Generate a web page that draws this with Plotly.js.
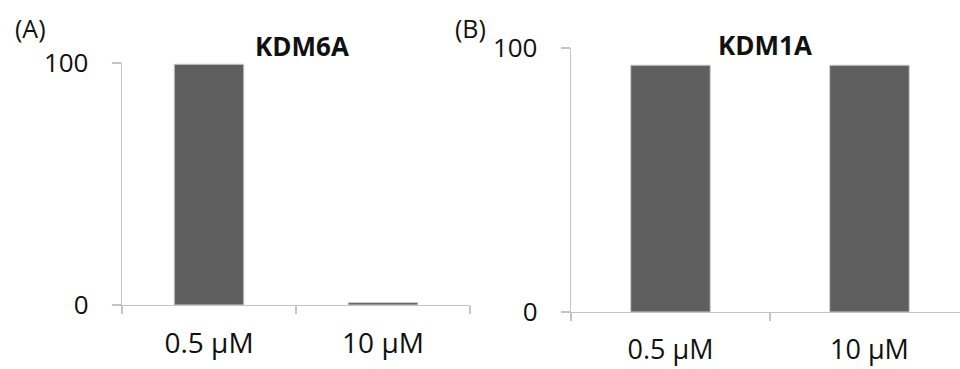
<!DOCTYPE html>
<html>
<head>
<meta charset="utf-8">
<script src="https://cdn.plot.ly/plotly-3.0.1.min.js"></script>
<style>html,body{margin:0;padding:0;background:#fff;}#chart{width:960px;height:369px;}</style>
</head>
<body>
<div id="chart"></div>
<script>
// Data
var categories = ["0.5 μM", "10 μM"];
var kdm6aValues = [99.5, 1.0];
var kdm1aValues = [93.5, 93.5];
var yTickValues = [0, 100];
var yTickLabels = ["0", "100"];
var panelTitles = ["KDM6A", "KDM1A"];
var panelLetters = ["(A)", "(B)"];

var FONT = "'Open Sans', Lato, sans-serif";
var barColor = "#5f5f5f";
var axisColor = "#c4c4c4";
var textColor = "#111111";

var traces = [
  {type: "bar", x: categories, y: kdm6aValues, xaxis: "x", yaxis: "y",
   marker: {color: barColor, line: {color: "#cfcfcf", width: 1}}, hoverinfo: "x+y"},
  {type: "bar", x: categories, y: kdm1aValues, xaxis: "x2", yaxis: "y2",
   marker: {color: barColor, line: {color: "#cfcfcf", width: 1}}, hoverinfo: "x+y"}
];

function xa(domain, range, standoff, size) {
  return {domain: domain, type: "category", range: range, tickson: "boundaries",
    showline: true, linecolor: axisColor, linewidth: 1.3, ticks: "outside", ticklen: 8,
    tickcolor: axisColor, tickwidth: 1.3, showgrid: false, zeroline: false,
    tickfont: {family: FONT, size: size, color: textColor}, ticklabelstandoff: standoff,
    fixedrange: true};
}
function ya(domain, anchor, standoff) {
  return {domain: domain, anchor: anchor, range: [0, 100], tickvals: yTickValues, ticktext: yTickLabels,
    showline: true, linecolor: axisColor, linewidth: 1.3, ticks: "outside", ticklen: 9,
    tickcolor: axisColor, tickwidth: 1.3, showgrid: false, zeroline: false,
    tickfont: {family: FONT, size: 26, color: textColor}, ticklabelstandoff: standoff,
    fixedrange: true};
}

var layout = {
  width: 960, height: 369,
  margin: {l: 0, r: 0, t: 0, b: 0},
  paper_bgcolor: "#ffffff", plot_bgcolor: "#ffffff",
  showlegend: false, bargap: 0.6,
  xaxis: Object.assign(xa([122/960, 470/960], [-0.5, 1.5], 13, 28), {anchor: "y"}),
  yaxis: ya([(369-305)/369, (369-63)/369], "x", 18),
  xaxis2: Object.assign(xa([571/960, 1], [-0.5, 1.455], 13, 27), {anchor: "y2"}),
  yaxis2: ya([(369-312)/369, (369-48)/369], "x2", 18),
  annotations: [
    {text: panelLetters[0], xref: "paper", yref: "paper", x: 30/960, y: 1-28/369, xanchor: "center", yanchor: "middle",
     showarrow: false, font: {family: FONT, size: 25, color: textColor}},
    {text: panelLetters[1], xref: "paper", yref: "paper", x: 470/960, y: 1-28/369, xanchor: "center", yanchor: "middle",
     showarrow: false, font: {family: FONT, size: 25, color: textColor}},
    {text: "<b>" + panelTitles[0] + "</b>", xref: "paper", yref: "paper", x: 302/960, y: 1-46/369, xanchor: "center", yanchor: "middle",
     showarrow: false, font: {family: FONT, size: 26, color: textColor}},
    {text: "<b>" + panelTitles[1] + "</b>", xref: "paper", yref: "paper", x: 765/960, y: 1-45/369, xanchor: "center", yanchor: "middle",
     showarrow: false, font: {family: FONT, size: 26, color: textColor}}
  ]
};

Plotly.newPlot("chart", traces, layout, {displayModeBar: false, staticPlot: true});
</script>
</body>
</html>
